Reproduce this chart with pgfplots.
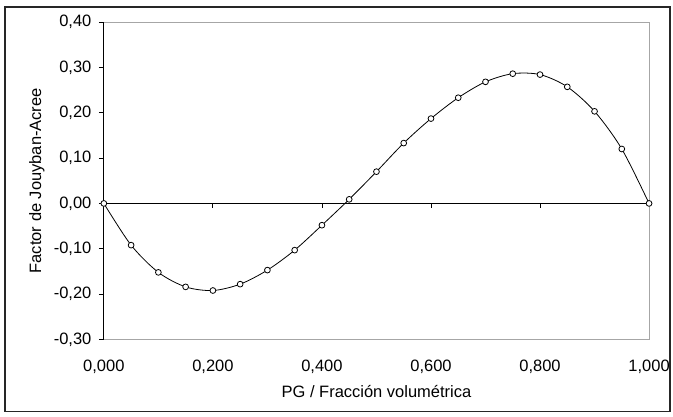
\documentclass[border=0pt]{standalone}
\usepackage{pgfplots}
\pgfplotsset{compat=1.18}
\usepackage{fontspec}
\setmainfont{Liberation Sans}
\begin{document}
\begin{tikzpicture}
\begin{axis}[
  scale only axis,
  width=546pt, height=318pt,
  xmin=0, xmax=1, ymin=-0.3, ymax=0.4,
  xtick={0,0.2,0.4,0.6,0.8,1},
  ytick={-0.3,-0.2,-0.1,0,0.1,0.2,0.3,0.4},
  axis line style={gray!70, line width=0.8pt},
  x tick style={draw=none},
  y tick style={black, line width=0.8pt},
  tick pos=left, tick align=outside,
  major tick length=5pt,
  tick label style={font=\fontsize{16.5}{19}\selectfont},
  label style={font=\fontsize{16.5}{19}\selectfont},
  /pgf/number format/assume math mode=true,
  xticklabel style={yshift=-12pt, /pgf/number format/.cd, fixed, fixed zerofill, precision=3, use comma},
  yticklabel style={xshift=-4pt, /pgf/number format/.cd, fixed, fixed zerofill, precision=2, use comma},
  scaled ticks=false,
  xlabel={PG / Fracción volumétrica},
  ylabel={Factor de Jouyban-Acree},
  xlabel style={at={(axis description cs:0.5,-0.163)}, anchor=center},
  ylabel style={at={(axis description cs:-0.1227,0.5)}, anchor=center},
  clip=false,
]
\draw[black, line width=0.8pt] (rel axis cs:0,0) -- (rel axis cs:0,1);
\draw[black, line width=0.8pt] (axis cs:0,0) -- (axis cs:1,0);
\pgfplotsinvokeforeach{0.2,0.4,0.6,0.8}{
  \draw[black, line width=0.8pt] (axis cs:#1,0) -- ([yshift=-5pt]axis cs:#1,0);
}
\addplot[black, line width=0.8pt, smooth, tension=0.5, mark=*, mark size=2.9pt,
  mark options={fill=white, draw=black, line width=0.8pt}]
  coordinates {
  (0.00, 0.000) (0.05,-0.092) (0.10,-0.152) (0.15,-0.184) (0.20,-0.192)
  (0.25,-0.178) (0.30,-0.147) (0.35,-0.103) (0.40,-0.048) (0.45, 0.009)
  (0.50, 0.070) (0.55, 0.133) (0.60, 0.187) (0.65, 0.233) (0.70, 0.268)
  (0.75, 0.286) (0.80, 0.284) (0.85, 0.257) (0.90, 0.203) (0.95, 0.120)
  (1.00, 0.000)
  };
\coordinate (SW) at (rel axis cs:0,0);
\coordinate (NE) at (rel axis cs:1,1);
\end{axis}
\draw[black!85, line width=1.4pt] ([xshift=-99pt,yshift=-72pt]SW) rectangle ([xshift=21pt,yshift=15pt]NE);
\path[use as bounding box] ([xshift=-104pt,yshift=-77pt]SW) rectangle ([xshift=23pt,yshift=22pt]NE);
\end{tikzpicture}
\end{document}
